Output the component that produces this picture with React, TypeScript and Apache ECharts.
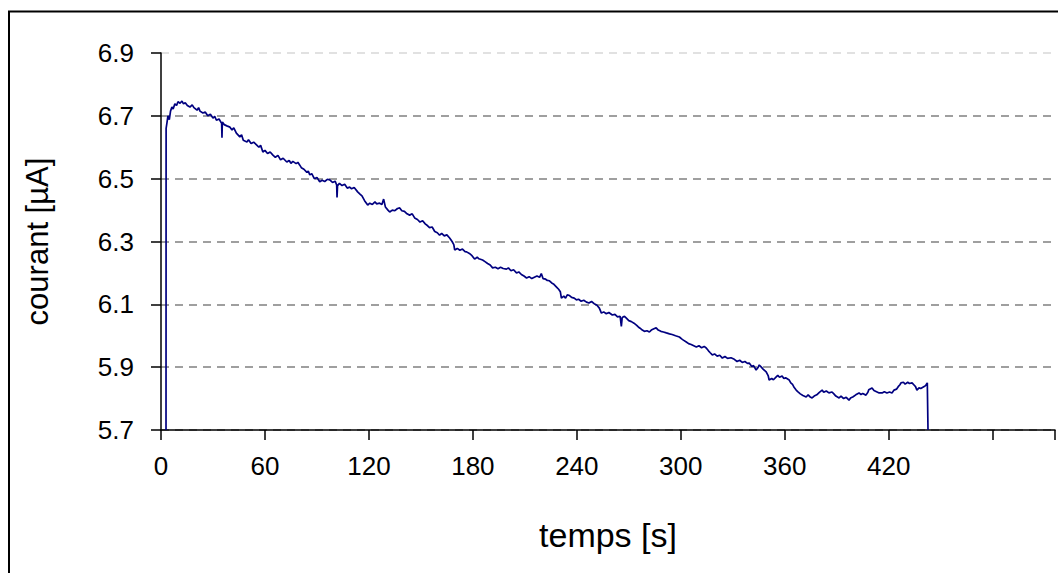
import React, { useEffect, useRef } from "react";
import * as echarts from "echarts";

// time in seconds
const timeS: number[] = [
  2.9, 2.95, 3.5, 4.0, 4.8, 5.5, 6.3, 7.0, 8.0, 9.0, 9.8, 11.0, 12.1, 13.0, 14.0, 15.2, 16.7, 18.0, 19.0, 20.8,
  21.7, 22.5, 24.2, 25.5, 27.0, 28.5, 30.0, 31.0, 32.0, 33.5, 35.0, 35.2, 35.4, 36.5, 38.0, 39.8, 41.0, 42.0, 43.5, 45.5,
  46.5, 47.5, 49.6, 50.5, 52.0, 53.5, 55.3, 56.5, 57.5, 58.8, 60.0, 61.5, 63.0, 64.6, 66.0, 67.5, 69.0, 70.5, 72.6, 74.0,
  75.0, 76.1, 78.0, 79.0, 80.1, 81.0, 82.5, 84.2, 85.0, 85.9, 87.0, 88.5, 90.0, 91.6, 93.0, 94.5, 96.0, 97.4, 99.0, 100.5,
  101.4, 101.6, 101.9, 103.0, 104.5, 106.0, 107.5, 108.9, 110.0, 111.5, 113.5, 115.0, 116.0, 117.5, 119.3, 120.5, 122.0, 123.5, 124.5, 126.2,
  127.5, 128.5, 129.5, 131.0, 132.0, 133.5, 135.0, 136.5, 137.8, 139.0, 140.5, 142.0, 143.5, 145.0, 146.4, 148.0, 149.5, 151.0, 152.5, 153.9,
  155.0, 156.5, 158.0, 159.5, 160.8, 162.0, 163.5, 165.0, 166.6, 168.0, 169.0, 169.5, 171.0, 172.5, 174.0, 175.5, 176.4, 178.0, 179.5, 181.0,
  182.5, 183.5, 185.6, 187.0, 188.5, 190.0, 191.4, 193.0, 194.5, 196.0, 197.5, 199.4, 200.5, 202.0, 203.5, 205.2, 206.5, 208.0, 209.5, 211.0,
  212.5, 214.0, 215.5, 217.0, 218.5, 219.5, 220.5, 222.0, 223.0, 224.2, 225.5, 226.5, 228.3, 229.5, 230.5, 231.1, 232.5, 233.5, 234.5, 235.8,
  237.0, 238.5, 239.8, 241.0, 242.5, 244.0, 245.6, 247.0, 248.5, 250.0, 251.5, 253.0, 254.2, 255.5, 257.0, 258.5, 260.5, 262.0, 263.5, 265.0,
  265.7, 266.2, 267.5, 268.6, 270.0, 271.5, 273.0, 274.4, 275.5, 276.5, 277.8, 279.0, 280.5, 281.9, 283.0, 284.5, 285.8, 287.0, 288.5, 290.0,
  291.7, 293.5, 295.0, 297.0, 299.2, 300.5, 301.5, 303.2, 304.5, 306.0, 307.5, 309.0, 310.5, 312.0, 313.5, 314.7, 316.0, 317.0, 318.2, 319.5,
  321.0, 322.5, 324.0, 325.5, 327.0, 329.0, 330.9, 332.5, 334.0, 335.5, 337.0, 338.5, 339.5, 341.0, 342.0, 343.5, 344.5, 345.3, 346.5, 347.5,
  349.3, 350.5, 351.0, 352.5, 353.5, 355.1, 356.0, 357.0, 358.5, 359.5, 360.5, 362.6, 363.5, 364.5, 365.5, 366.6, 367.5, 369.0, 370.5, 372.4,
  373.5, 374.5, 375.8, 377.0, 378.5, 380.0, 381.6, 382.5, 384.0, 385.5, 387.3, 388.5, 389.5, 391.4, 392.5, 394.0, 395.5, 397.1, 398.0, 399.5,
  401.0, 402.9, 404.0, 405.0, 406.9, 408.0, 408.5, 410.4, 411.5, 413.0, 414.5, 416.2, 417.5, 419.0, 420.5, 421.9, 423.1, 424.5, 425.5, 426.5,
  427.1, 428.5, 429.5, 431.0, 432.0, 433.5, 434.5, 435.5, 436.3, 437.5, 438.5, 440.0, 441.0, 441.5, 442.3, 442.7,
];

// current in µA
const currentUA: number[] = [
  5.70, 6.66, 6.68, 6.70, 6.688, 6.715, 6.728, 6.722, 6.738, 6.733, 6.745, 6.74, 6.747, 6.738, 6.742, 6.733, 6.728, 6.735, 6.726, 6.718,
  6.726, 6.715, 6.709, 6.712, 6.70, 6.705, 6.693, 6.698, 6.686, 6.69, 6.676, 6.63, 6.68, 6.672, 6.668, 6.664, 6.655, 6.662, 6.645, 6.633,
  6.64, 6.622, 6.617, 6.624, 6.612, 6.616, 6.607, 6.60, 6.606, 6.585, 6.59, 6.58, 6.585, 6.575, 6.568, 6.574, 6.56, 6.565, 6.553, 6.558,
  6.549, 6.555, 6.548, 6.552, 6.543, 6.535, 6.53, 6.52, 6.524, 6.512, 6.516, 6.50, 6.504, 6.49, 6.495, 6.491, 6.498, 6.496, 6.488, 6.492,
  6.48, 6.44, 6.478, 6.485, 6.478, 6.482, 6.47, 6.473, 6.468, 6.472, 6.458, 6.45, 6.445, 6.43, 6.416, 6.422, 6.418, 6.426, 6.42, 6.422,
  6.418, 6.435, 6.41, 6.40, 6.394, 6.40, 6.398, 6.405, 6.407, 6.398, 6.396, 6.388, 6.384, 6.388, 6.375, 6.37, 6.362, 6.366, 6.356, 6.35,
  6.344, 6.346, 6.332, 6.328, 6.32, 6.326, 6.318, 6.321, 6.311, 6.30, 6.29, 6.273, 6.278, 6.272, 6.276, 6.268, 6.267, 6.262, 6.255, 6.244,
  6.25, 6.245, 6.241, 6.236, 6.23, 6.225, 6.216, 6.218, 6.213, 6.218, 6.214, 6.212, 6.216, 6.207, 6.21, 6.20, 6.203, 6.195, 6.19, 6.184,
  6.188, 6.182, 6.186, 6.19, 6.186, 6.198, 6.182, 6.18, 6.176, 6.175, 6.168, 6.165, 6.155, 6.148, 6.14, 6.12, 6.126, 6.12, 6.13, 6.128,
  6.122, 6.12, 6.114, 6.116, 6.11, 6.113, 6.107, 6.104, 6.109, 6.102, 6.098, 6.088, 6.072, 6.076, 6.07, 6.074, 6.066, 6.068, 6.06, 6.062,
  6.03, 6.058, 6.062, 6.056, 6.048, 6.045, 6.04, 6.034, 6.028, 6.024, 6.018, 6.014, 6.016, 6.012, 6.018, 6.022, 6.025, 6.018, 6.014, 6.012,
  6.009, 6.006, 6.004, 6.0, 5.996, 5.99, 5.986, 5.98, 5.975, 5.972, 5.968, 5.964, 5.968, 5.962, 5.966, 5.961, 5.952, 5.946, 5.939, 5.942,
  5.935, 5.938, 5.929, 5.934, 5.928, 5.93, 5.925, 5.918, 5.922, 5.915, 5.918, 5.912, 5.913, 5.902, 5.905, 5.891, 5.898, 5.907, 5.90, 5.894,
  5.885, 5.872, 5.859, 5.864, 5.86, 5.869, 5.874, 5.868, 5.872, 5.864, 5.866, 5.859, 5.85, 5.845, 5.835, 5.827, 5.822, 5.815, 5.81, 5.805,
  5.812, 5.806, 5.802, 5.808, 5.812, 5.82, 5.827, 5.82, 5.824, 5.818, 5.821, 5.814, 5.808, 5.802, 5.808, 5.80, 5.804, 5.795, 5.802, 5.806,
  5.812, 5.818, 5.813, 5.816, 5.811, 5.82, 5.828, 5.834, 5.826, 5.822, 5.818, 5.818, 5.822, 5.818, 5.821, 5.818, 5.827, 5.83, 5.838, 5.844,
  5.85, 5.852, 5.846, 5.852, 5.848, 5.85, 5.844, 5.838, 5.827, 5.834, 5.832, 5.837, 5.84, 5.843, 5.85, 5.70,
];

const yMin = 5.7;
const yMax = 6.9;
const yStep = 0.2;
const xMin = 0;
const xMax = 516;
const xStep = 60;
const xLabelLimit = 420;

const FONT = "'Liberation Sans', Arial, sans-serif";

export default function App() {
  const ref = useRef<HTMLDivElement>(null);

  useEffect(() => {
    if (!ref.current) return;
    const chart = echarts.init(ref.current, null, { renderer: "svg" });
    const data = timeS.map((t, i) => [t, currentUA[i]]);
    chart.setOption({
      animation: false,
      backgroundColor: "#ffffff",
      grid: { left: 161, right: 2, top: 53, bottom: 143, containLabel: false },
      graphic: [
        {
          type: "rect",
          shape: { x: 9, y: 11.5, width: 2000, height: 2000 },
          style: { fill: "none", stroke: "#000", lineWidth: 2 },
          silent: true,
        },
      ],
      xAxis: {
        type: "value",
        min: xMin,
        max: xMax,
        interval: xStep,
        name: "temps [s]",
        nameLocation: "middle",
        nameGap: 88,
        nameTextStyle: { fontFamily: FONT, fontSize: 34, color: "#000" },
        axisLine: { show: true, onZero: false, lineStyle: { color: "#000", width: 1.5 } },
        axisTick: { show: true, inside: false, length: 10, lineStyle: { color: "#000", width: 1.5 } },
        axisLabel: {
          fontFamily: FONT,
          fontSize: 26,
          color: "#000",
          margin: 23,
          formatter: (v: number) => (v <= xLabelLimit ? String(Math.round(v)) : ""),
        },
        splitLine: { show: false },
      },
      yAxis: {
        type: "value",
        min: yMin,
        max: yMax,
        interval: yStep,
        name: "courant [µA]",
        nameLocation: "middle",
        nameGap: 108,
        nameTextStyle: { fontFamily: FONT, fontSize: 31, color: "#000" },
        axisLine: { show: true, lineStyle: { color: "#000", width: 1.5 } },
        axisTick: { show: true, inside: false, length: 10, lineStyle: { color: "#000", width: 1.5 } },
        axisLabel: {
          fontFamily: FONT,
          fontSize: 26,
          color: "#000",
          margin: 27,
          formatter: (v: number) => v.toFixed(1),
        },
        splitLine: {
          show: true,
          lineStyle: {
            color: ["#808080", "#808080", "#808080", "#808080", "#808080", "#808080", "#d8d8d8"],
            type: [8, 6],
            width: 1.5,
          },
        },
      },
      series: [
        {
          type: "line",
          data,
          showSymbol: false,
          symbol: "none",
          lineStyle: { color: "#000080", width: 1.7 },
          clip: true,
        },
      ],
    });
    return () => chart.dispose();
  }, []);

  return (
    <div
      ref={ref}
      style={{ position: "absolute", left: 0, top: 0, width: 1058, height: 573 }}
    />
  );
}
